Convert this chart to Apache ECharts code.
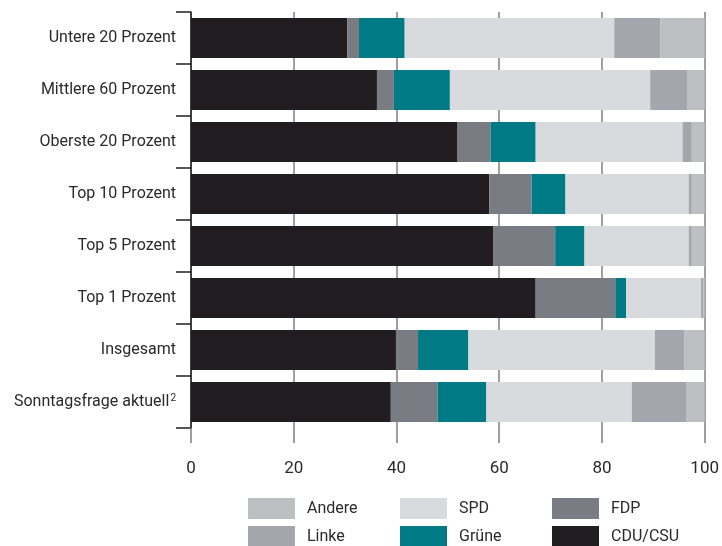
<!DOCTYPE html>
<html>
<head>
<meta charset="utf-8">
<script src="https://cdn.jsdelivr.net/npm/echarts@6/dist/echarts.min.js"></script>
<style>
html,body{margin:0;padding:0;background:#fff;}
#chart{width:722px;height:546px;}
</style>
</head>
<body>
<div id="chart"></div>
<script>
const categories = ['Untere 20 Prozent','Mittlere 60 Prozent','Oberste 20 Prozent','Top 10 Prozent','Top 5 Prozent','Top 1 Prozent','Insgesamt','Sonntagsfrage aktuell'];
const footnotes = ['','','','','','','','2'];
const cduCsu = [30.4, 36.2, 51.9, 58.1, 58.9, 67.1, 39.9, 38.9];
const fdp    = [2.3, 3.3, 6.4, 8.2, 12.0, 15.5, 4.3, 9.1];
const gruene = [8.9, 10.9, 8.8, 6.6, 5.7, 2.1, 9.8, 9.5];
const spd    = [40.8, 39.0, 28.6, 24.0, 20.3, 14.6, 36.3, 28.3];
const linke  = [9.0, 7.3, 1.8, 0.6, 0.6, 0.5, 5.8, 10.7];
const andere = [8.6, 3.3, 2.5, 2.5, 2.5, 0.2, 3.9, 3.5];
const xTicks = [0, 20, 40, 60, 80, 100];

const seriesDefs = [
  {name:'CDU/CSU', data:cduCsu, color:'#211d20'},
  {name:'FDP', data:fdp, color:'#7a7c84'},
  {name:'Grüne', data:gruene, color:'#007b85'},
  {name:'SPD', data:spd, color:'#d9dade'},
  {name:'Linke', data:linke, color:'#a3a6ad'},
  {name:'Andere', data:andere, color:'#bcc0c3'}
];

const FONT = 'Roboto';
const TXT = '#2b2a2b';

const chart = echarts.init(document.getElementById('chart'), null, {renderer:'canvas'});

const legendCols = [['Andere','Linke'],['SPD','Grüne'],['FDP','CDU/CSU']];
const legendLeft = [248, 400, 552];

chart.setOption({
  animation:false,
  backgroundColor:'#ffffff',
  grid:{left:191, right:15, top:12, height:416, containLabel:false},
  xAxis:{
    type:'value', min:xTicks[0], max:xTicks[xTicks.length-1], interval:20,
    axisLine:{show:false},
    axisTick:{show:true, length:15, lineStyle:{color:'#7f7f7f', width:1.5}},
    splitLine:{show:true, lineStyle:{color:'#7f7f7f', width:1.5}},
    axisLabel:{margin:32, color:TXT, fontFamily:FONT, fontSize:17}
  },
  yAxis:{
    type:'category', inverse:true, data:categories,
    axisLine:{show:true, lineStyle:{color:'#231f20', width:1.5}},
    axisTick:{show:true, length:15, lineStyle:{color:'#231f20', width:1.5}},
    axisLabel:{
      margin:15, color:TXT, fontFamily:FONT, fontSize:16,
      formatter:function(v, i){ return footnotes[i] ? v + '{sup|' + footnotes[i] + '}' : v; },
      rich:{sup:{fontSize:10, fontFamily:FONT, color:TXT, padding:[0,0,8,1]}}
    }
  },
  legend: legendCols.map((col, i) => ({
    orient:'vertical', left:legendLeft[i], top:498, width:160, height:80,
    padding:0,
    itemWidth:47, itemHeight:21, itemGap:7,
    icon:'rect', selectedMode:false,
    textStyle:{color:TXT, fontFamily:FONT, fontSize:16, padding:[0,0,0,7]},
    data:col
  })),
  series: seriesDefs.map(s => ({
    name:s.name, type:'bar', stack:'total', data:s.data, barWidth:40,
    itemStyle:{color:s.color}, emphasis:{disabled:true}
  }))
});
</script>
</body>
</html>
